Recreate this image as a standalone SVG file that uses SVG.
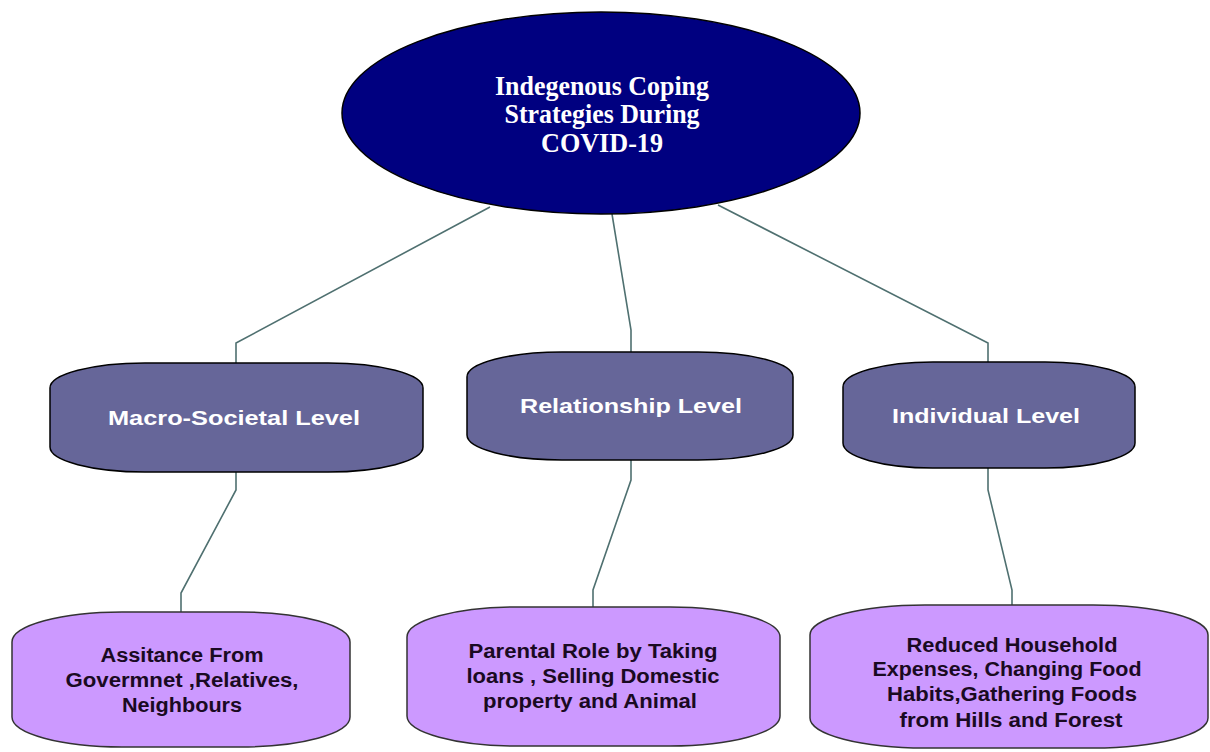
<svg xmlns="http://www.w3.org/2000/svg" width="1210" height="752" viewBox="0 0 1210 752">
<style>
.conn{fill:none;stroke:#4f7070;stroke-width:1.6}
.root{fill:#000080;stroke:#000;stroke-width:1.5}
.lvl{fill:#666699;stroke:#000;stroke-width:1.5}
.leaf{fill:#cc99ff;stroke:#333;stroke-width:1.5}
.troot{font-family:"Liberation Serif",serif;font-weight:bold;font-size:28px;fill:#fff;text-anchor:middle}
.tlvl{font-family:"Liberation Sans",Arial,sans-serif;font-weight:bold;font-size:21px;fill:#fff;text-anchor:middle}
.tleaf{font-family:"Liberation Sans",Arial,sans-serif;font-weight:bold;font-size:20px;fill:#1a0a22;text-anchor:middle}
</style>
<rect width="1210" height="752" fill="#fff"/>
<g id="connectors">
<polyline class="conn" points="490,207 236,343 236,363"/>
<polyline class="conn" points="612,214 631,330 631,352"/>
<polyline class="conn" points="718,205 988,343 988,362"/>
<polyline class="conn" points="236,472 236,490 181,593 181,612"/>
<polyline class="conn" points="631,460 631,480 593,590 593,607"/>
<polyline class="conn" points="988,468 988,490 1012,590 1012,605"/>
</g>
<g id="root">
<ellipse class="root" cx="601" cy="113" rx="259" ry="101"/>
<text class="troot" x="602" y="95" textLength="214" lengthAdjust="spacingAndGlyphs">Indegenous Coping</text>
<text class="troot" x="602" y="123" textLength="195" lengthAdjust="spacingAndGlyphs">Strategies During</text>
<text class="troot" x="602" y="152" textLength="122" lengthAdjust="spacingAndGlyphs">COVID-19</text>
</g>
<g id="macro">
<rect class="lvl" x="50" y="363" width="373" height="109" rx="95" ry="25"/>
<text class="tlvl" x="234" y="425" textLength="252" lengthAdjust="spacingAndGlyphs">Macro-Societal Level</text>
</g>
<g id="relationship">
<rect class="lvl" x="467" y="352" width="326" height="108" rx="95" ry="25"/>
<text class="tlvl" x="631" y="413" textLength="222" lengthAdjust="spacingAndGlyphs">Relationship Level</text>
</g>
<g id="individual">
<rect class="lvl" x="843" y="362" width="292" height="106" rx="90" ry="25"/>
<text class="tlvl" x="986" y="423" textLength="188" lengthAdjust="spacingAndGlyphs">Individual Level</text>
</g>
<g id="assistance">
<rect class="leaf" x="12" y="612" width="338" height="135" rx="110" ry="30"/>
<text class="tleaf" x="182" y="662" textLength="163" lengthAdjust="spacingAndGlyphs">Assitance From</text>
<text class="tleaf" x="182" y="687" textLength="233" lengthAdjust="spacingAndGlyphs">Govermnet ,Relatives,</text>
<text class="tleaf" x="182" y="712" textLength="120" lengthAdjust="spacingAndGlyphs">Neighbours</text>
</g>
<g id="parental">
<rect class="leaf" x="407" y="607" width="373" height="139" rx="110" ry="30"/>
<text class="tleaf" x="593" y="658" textLength="249" lengthAdjust="spacingAndGlyphs">Parental Role by Taking</text>
<text class="tleaf" x="593" y="683" textLength="253" lengthAdjust="spacingAndGlyphs">loans , Selling Domestic</text>
<text class="tleaf" x="590" y="708" textLength="214" lengthAdjust="spacingAndGlyphs">property and Animal</text>
</g>
<g id="reduced">
<rect class="leaf" x="810" y="605" width="398" height="143" rx="115" ry="30"/>
<text class="tleaf" x="1012" y="652" textLength="211" lengthAdjust="spacingAndGlyphs">Reduced Household</text>
<text class="tleaf" x="1007" y="676" textLength="269" lengthAdjust="spacingAndGlyphs">Expenses, Changing Food</text>
<text class="tleaf" x="1012" y="701" textLength="250" lengthAdjust="spacingAndGlyphs">Habits,Gathering Foods</text>
<text class="tleaf" x="1011" y="727" textLength="223" lengthAdjust="spacingAndGlyphs">from Hills and Forest</text>
</g>
</svg>
